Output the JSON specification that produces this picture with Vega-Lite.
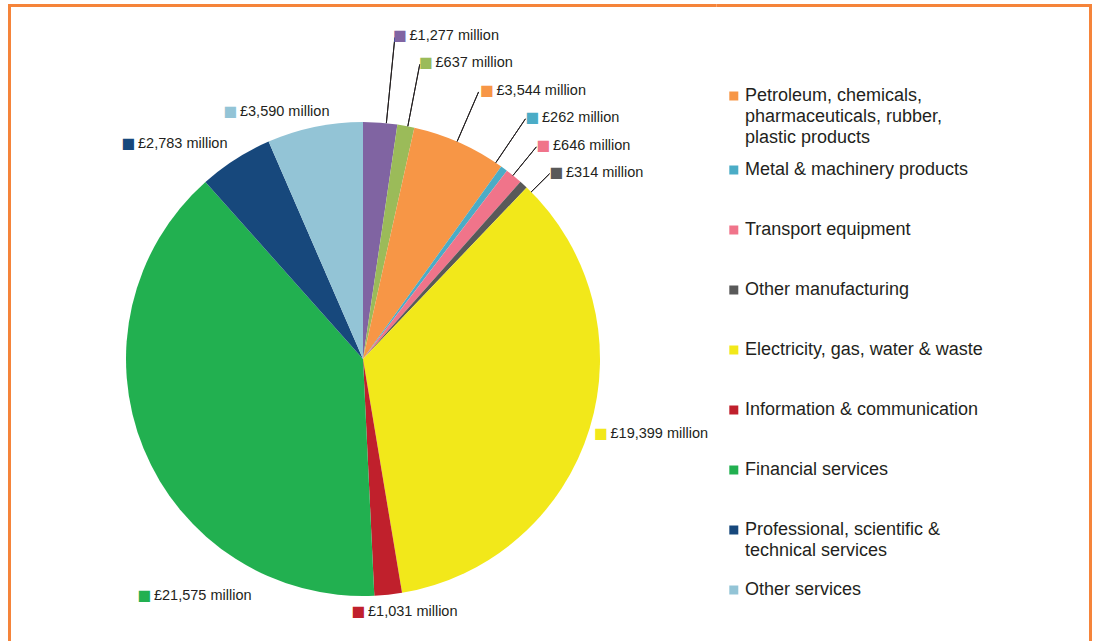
{
  "$schema": "https://vega.github.io/schema/vega-lite/v6.json",
  "padding": {"left": 7.5, "top": 3.5, "right": 2.5, "bottom": -73.5},
  "background": "white",
  "spacing": 0,
  "bounds": "flush",
  "data": {
    "values": [
      {"rank": 1, "cat": "Mining & quarrying", "value": 1277, "lbl": "£1,277 million"},
      {"rank": 2, "cat": "Food products, beverages & tobacco", "value": 637, "lbl": "£637 million"},
      {"rank": 3, "cat": "Petroleum, chemicals, pharmaceuticals, rubber, plastic products", "value": 3544, "lbl": "£3,544 million"},
      {"rank": 4, "cat": "Metal & machinery products", "value": 262, "lbl": "£262 million"},
      {"rank": 5, "cat": "Transport equipment", "value": 646, "lbl": "£646 million"},
      {"rank": 6, "cat": "Other manufacturing", "value": 314, "lbl": "£314 million"},
      {"rank": 7, "cat": "Electricity, gas, water & waste", "value": 19399, "lbl": "£19,399 million"},
      {"rank": 8, "cat": "Information & communication", "value": 1031, "lbl": "£1,031 million"},
      {"rank": 9, "cat": "Financial services", "value": 21575, "lbl": "£21,575 million"},
      {"rank": 10, "cat": "Professional, scientific & technical services", "value": 2783, "lbl": "£2,783 million"},
      {"rank": 11, "cat": "Other services", "value": 3590, "lbl": "£3,590 million"}
    ]
  },
  "hconcat": [
    {
      "width": 707,
      "height": 707,
      "view": {"stroke": "#F5843A", "strokeWidth": 3, "strokeDash": [707, 707, 1414]},
      "encoding": {
        "theta": {"field": "value", "type": "quantitative", "stack": true},
        "order": {"field": "rank", "type": "quantitative"},
        "detail": {"field": "cat", "type": "nominal"}
      },
      "layer": [
        {
          "mark": {"type": "arc", "radius": 237},
          "encoding": {
            "color": {
              "field": "cat",
              "type": "nominal",
              "scale": {
                "domain": ["Mining & quarrying", "Food products, beverages & tobacco", "Petroleum, chemicals, pharmaceuticals, rubber, plastic products", "Metal & machinery products", "Transport equipment", "Other manufacturing", "Electricity, gas, water & waste", "Information & communication", "Financial services", "Professional, scientific & technical services", "Other services"],
                "range": ["#8064A2", "#9BBB59", "#F79646", "#4BACC6", "#F0748A", "#595959", "#F2E81A", "#C0202C", "#22B050", "#17487C", "#93C4D6"]
              },
              "legend": {
                "orient": "none",
                "legendX": 715.3,
                "legendY": 95.5,
                "title": null,
                "values": ["Petroleum, chemicals, pharmaceuticals, rubber, plastic products", "Metal & machinery products", "Transport equipment", "Other manufacturing", "Electricity, gas, water & waste", "Information & communication", "Financial services", "Professional, scientific & technical services", "Other services"],
                "symbolType": "square",
                "symbolSize": 81,
                "symbolStrokeWidth": 0,
                "symbolOpacity": 1,
                "labelFont": "Liberation Sans",
                "labelFontSize": 18,
                "labelColor": "#231F20",
                "labelLimit": 0,
                "labelOffset": 2.2,
                "rowPadding": 14,
                "gridAlign": "all",
                "padding": 0,
                "labelExpr": "datum.value === 'Petroleum, chemicals, pharmaceuticals, rubber, plastic products' ? ['Petroleum, chemicals,', 'pharmaceuticals, rubber,', 'plastic products'] : datum.value === 'Professional, scientific & technical services' ? ['Professional, scientific &', 'technical services'] : datum.label",
                "encode": {
                  "symbols": {
                    "update": {
                      "y": {"signal": "datum.size / 2 + (datum.value === 'Petroleum, chemicals, pharmaceuticals, rubber, plastic products' ? -14 : 0)"}
                    }
                  },
                  "labels": {
                    "update": {
                      "lineHeight": {"value": 21},
                      "dy": {"signal": "datum.value === 'Petroleum, chemicals, pharmaceuticals, rubber, plastic products' ? -14 : 0"}
                    }
                  }
                }
              }
            }
          }
        },
        {"mark": {"type": "arc", "radius": 323, "radius2": 237, "padAngle": 3.14, "thetaOffset": 0.0259, "theta2Offset": 0.0259, "filled": false, "stroke": "#231F20", "strokeWidth": 1}, "encoding": {"opacity": {"condition": {"test": "datum.rank === 1", "value": 1}, "value": 0}}},
        {"mark": {"type": "arc", "radius": 300, "radius2": 237, "padAngle": 3.14, "thetaOffset": 0.0082, "theta2Offset": 0.0082, "filled": false, "stroke": "#231F20", "strokeWidth": 1}, "encoding": {"opacity": {"condition": {"test": "datum.rank === 2", "value": 1}, "value": 0}}},
        {"mark": {"type": "arc", "radius": 291, "radius2": 237, "padAngle": 3.14, "thetaOffset": -0.0122, "theta2Offset": -0.0122, "filled": false, "stroke": "#231F20", "strokeWidth": 1}, "encoding": {"opacity": {"condition": {"test": "datum.rank === 3", "value": 1}, "value": 0}}},
        {"mark": {"type": "arc", "radius": 290, "radius2": 237, "padAngle": 3.14, "thetaOffset": -0.0431, "theta2Offset": -0.0431, "filled": false, "stroke": "#231F20", "strokeWidth": 1}, "encoding": {"opacity": {"condition": {"test": "datum.rank === 4", "value": 1}, "value": 0}}},
        {"mark": {"type": "arc", "radius": 274, "radius2": 237, "padAngle": 3.14, "thetaOffset": -0.0045, "theta2Offset": -0.0045, "filled": false, "stroke": "#231F20", "strokeWidth": 1}, "encoding": {"opacity": {"condition": {"test": "datum.rank === 5", "value": 1}, "value": 0}}},
        {"mark": {"type": "arc", "radius": 263, "radius2": 237, "padAngle": 3.14, "thetaOffset": 0.0445, "theta2Offset": 0.0445, "filled": false, "stroke": "#231F20", "strokeWidth": 1}, "encoding": {"opacity": {"condition": {"test": "datum.rank === 6", "value": 1}, "value": 0}}},

        {"mark": {"type": "text", "radius": 237, "dx": 19.75, "dy": -86.63, "align": "center", "baseline": "middle", "font": "DejaVu Sans", "fontSize": 14.5, "fill": "#8064A2"}, "encoding": {"text": {"condition": {"test": "datum.rank === 1", "value": "■"}, "value": ""}}},
        {"mark": {"type": "text", "radius": 237, "dx": 20.09, "dy": -62.92, "align": "center", "baseline": "middle", "font": "DejaVu Sans", "fontSize": 14.5, "fill": "#9BBB59"}, "encoding": {"text": {"condition": {"test": "datum.rank === 2", "value": "■"}, "value": ""}}},
        {"mark": {"type": "text", "radius": 237, "dx": 27.22, "dy": -51.66, "align": "center", "baseline": "middle", "font": "DejaVu Sans", "fontSize": 14.5, "fill": "#F79646"}, "encoding": {"text": {"condition": {"test": "datum.rank === 3", "value": "■"}, "value": ""}}},
        {"mark": {"type": "text", "radius": 237, "dx": 28.37, "dy": -50.6, "align": "center", "baseline": "middle", "font": "DejaVu Sans", "fontSize": 14.5, "fill": "#4BACC6"}, "encoding": {"text": {"condition": {"test": "datum.rank === 4", "value": "■"}, "value": ""}}},
        {"mark": {"type": "text", "radius": 237, "dx": 29.75, "dy": -30.12, "align": "center", "baseline": "middle", "font": "DejaVu Sans", "fontSize": 14.5, "fill": "#F0748A"}, "encoding": {"text": {"condition": {"test": "datum.rank === 5", "value": "■"}, "value": ""}}},
        {"mark": {"type": "text", "radius": 237, "dx": 32.93, "dy": -11.69, "align": "center", "baseline": "middle", "font": "DejaVu Sans", "fontSize": 14.5, "fill": "#595959"}, "encoding": {"text": {"condition": {"test": "datum.rank === 6", "value": "■"}, "value": ""}}},
        {"mark": {"type": "text", "radius": 237, "dx": 11.48, "dy": 5.32, "align": "center", "baseline": "middle", "font": "DejaVu Sans", "fontSize": 14.5, "fill": "#F2E81A"}, "encoding": {"text": {"condition": {"test": "datum.rank === 7", "value": "■"}, "value": ""}}},
        {"mark": {"type": "text", "radius": 237, "dx": -29.73, "dy": 16.85, "align": "center", "baseline": "middle", "font": "DejaVu Sans", "fontSize": 14.5, "fill": "#C0202C"}, "encoding": {"text": {"condition": {"test": "datum.rank === 8", "value": "■"}, "value": ""}}},
        {"mark": {"type": "text", "radius": 237, "dx": 0.93, "dy": 147.93, "align": "center", "baseline": "middle", "font": "DejaVu Sans", "fontSize": 14.5, "fill": "#22B050"}, "encoding": {"text": {"condition": {"test": "datum.rank === 9", "value": "■"}, "value": ""}}},
        {"mark": {"type": "text", "radius": 237, "dx": -106.91, "dy": -14.78, "align": "center", "baseline": "middle", "font": "DejaVu Sans", "fontSize": 14.5, "fill": "#17487C"}, "encoding": {"text": {"condition": {"test": "datum.rank === 10", "value": "■"}, "value": ""}}},
        {"mark": {"type": "text", "radius": 237, "dx": -84.3, "dy": -15.45, "align": "center", "baseline": "middle", "font": "DejaVu Sans", "fontSize": 14.5, "fill": "#93C4D6"}, "encoding": {"text": {"condition": {"test": "datum.rank === 11", "value": "■"}, "value": ""}}},

        {"mark": {"type": "text", "radius": 237, "dx": 29.25, "dy": -86.63, "align": "left", "baseline": "middle", "font": "Liberation Sans", "fontSize": 14.5, "fill": "#231F20"}, "encoding": {"text": {"condition": {"test": "datum.rank === 1", "field": "lbl", "type": "nominal"}, "value": ""}}},
        {"mark": {"type": "text", "radius": 237, "dx": 29.6, "dy": -62.92, "align": "left", "baseline": "middle", "font": "Liberation Sans", "fontSize": 14.5, "fill": "#231F20"}, "encoding": {"text": {"condition": {"test": "datum.rank === 2", "field": "lbl", "type": "nominal"}, "value": ""}}},
        {"mark": {"type": "text", "radius": 237, "dx": 36.7, "dy": -51.66, "align": "left", "baseline": "middle", "font": "Liberation Sans", "fontSize": 14.5, "fill": "#231F20"}, "encoding": {"text": {"condition": {"test": "datum.rank === 3", "field": "lbl", "type": "nominal"}, "value": ""}}},
        {"mark": {"type": "text", "radius": 237, "dx": 37.9, "dy": -50.6, "align": "left", "baseline": "middle", "font": "Liberation Sans", "fontSize": 14.5, "fill": "#231F20"}, "encoding": {"text": {"condition": {"test": "datum.rank === 4", "field": "lbl", "type": "nominal"}, "value": ""}}},
        {"mark": {"type": "text", "radius": 237, "dx": 39.25, "dy": -30.12, "align": "left", "baseline": "middle", "font": "Liberation Sans", "fontSize": 14.5, "fill": "#231F20"}, "encoding": {"text": {"condition": {"test": "datum.rank === 5", "field": "lbl", "type": "nominal"}, "value": ""}}},
        {"mark": {"type": "text", "radius": 237, "dx": 42.4, "dy": -11.69, "align": "left", "baseline": "middle", "font": "Liberation Sans", "fontSize": 14.5, "fill": "#231F20"}, "encoding": {"text": {"condition": {"test": "datum.rank === 6", "field": "lbl", "type": "nominal"}, "value": ""}}},
        {"mark": {"type": "text", "radius": 237, "dx": 21, "dy": 5.32, "align": "left", "baseline": "middle", "font": "Liberation Sans", "fontSize": 14.5, "fill": "#231F20"}, "encoding": {"text": {"condition": {"test": "datum.rank === 7", "field": "lbl", "type": "nominal"}, "value": ""}}},
        {"mark": {"type": "text", "radius": 237, "dx": -20.2, "dy": 16.85, "align": "left", "baseline": "middle", "font": "Liberation Sans", "fontSize": 14.5, "fill": "#231F20"}, "encoding": {"text": {"condition": {"test": "datum.rank === 8", "field": "lbl", "type": "nominal"}, "value": ""}}},
        {"mark": {"type": "text", "radius": 237, "dx": 10.4, "dy": 147.93, "align": "left", "baseline": "middle", "font": "Liberation Sans", "fontSize": 14.5, "fill": "#231F20"}, "encoding": {"text": {"condition": {"test": "datum.rank === 9", "field": "lbl", "type": "nominal"}, "value": ""}}},
        {"mark": {"type": "text", "radius": 237, "dx": -97.4, "dy": -14.78, "align": "left", "baseline": "middle", "font": "Liberation Sans", "fontSize": 14.5, "fill": "#231F20"}, "encoding": {"text": {"condition": {"test": "datum.rank === 10", "field": "lbl", "type": "nominal"}, "value": ""}}},
        {"mark": {"type": "text", "radius": 237, "dx": -74.8, "dy": -15.45, "align": "left", "baseline": "middle", "font": "Liberation Sans", "fontSize": 14.5, "fill": "#231F20"}, "encoding": {"text": {"condition": {"test": "datum.rank === 11", "field": "lbl", "type": "nominal"}, "value": ""}}}
      ]
    },
    {
      "width": 374,
      "height": 707,
      "view": {"stroke": "#F5843A", "strokeWidth": 3, "strokeDash": [1081, 1081]},
      "mark": {"type": "text"},
      "encoding": {"text": {"value": ""}}
    }
  ],
  "config": {"font": "Liberation Sans"}
}
